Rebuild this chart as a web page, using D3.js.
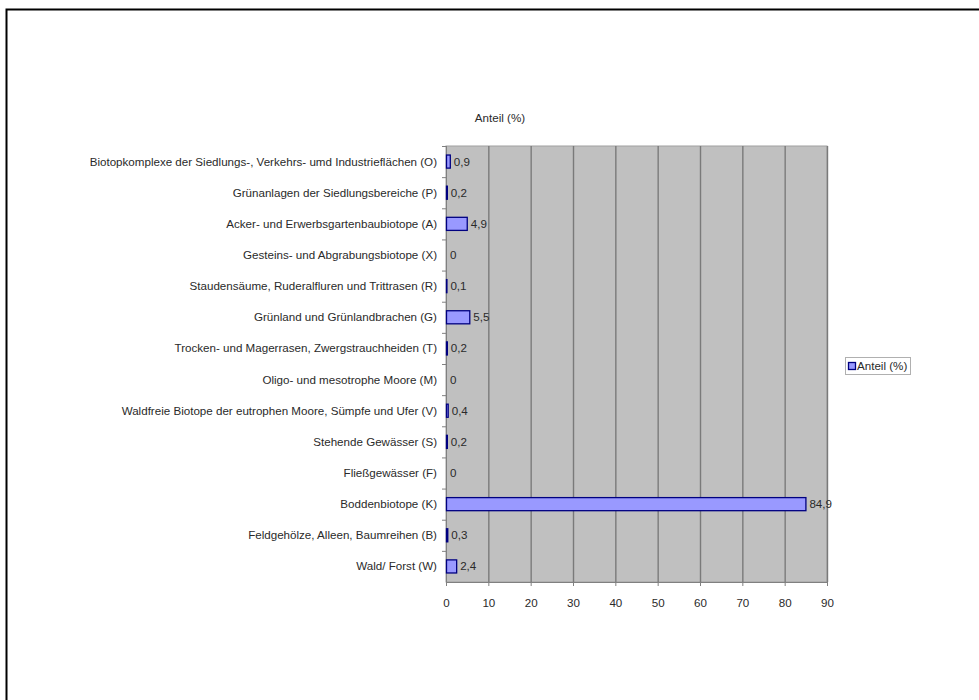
<!DOCTYPE html>
<html>
<head>
<meta charset="utf-8">
<script src="https://cdn.jsdelivr.net/npm/d3@7"></script>
<style>
  body { margin: 0; background: #fff; }
  svg text { font-family: "Liberation Sans", Arial, sans-serif; fill: #2a2a2a; }
</style>
</head>
<body>
<div id="chart"></div>
<script>
// data, top to bottom
let categories = [
    "Biotopkomplexe der Siedlungs-, Verkehrs- umd Industrieflächen (O)",
    "Grünanlagen der Siedlungsbereiche (P)",
    "Acker- und Erwerbsgartenbaubiotope (A)",
    "Gesteins- und Abgrabungsbiotope (X)",
    "Staudensäume, Ruderalfluren und Trittrasen (R)",
    "Grünland und Grünlandbrachen (G)",
    "Trocken- und Magerrasen, Zwergstrauchheiden (T)",
    "Oligo- und mesotrophe Moore (M)",
    "Waldfreie Biotope der eutrophen Moore, Sümpfe und Ufer (V)",
    "Stehende Gewässer (S)",
    "Fließgewässer (F)",
    "Boddenbiotope (K)",
    "Feldgehölze, Alleen, Baumreihen (B)",
    "Wald/ Forst (W)"
];
let values = [0.9, 0.2, 4.9, 0, 0.1, 5.5, 0.2, 0, 0.4, 0.2, 0, 84.9, 0.3, 2.4];
let xTicks = [0, 10, 20, 30, 40, 50, 60, 70, 80, 90];
let seriesName = "Anteil (%)";

let width = 979, height = 700;
let plot = {left: 446, right: 827, top: 146, bottom: 582};
let fontSize = "11.6px";

let svg = d3.select("#chart").append("svg")
    .attr("width", width)
    .attr("height", height);

// outer frame
svg.append("path")
    .attr("d", "M6.5," + height + "V9.5H" + width)
    .style("fill", "none")
    .style("stroke", "#000")
    .style("stroke-width", 2);

let x = d3.scaleLinear().domain([0, 90]).range([plot.left, plot.right]);
let y = d3.scaleBand().domain(categories).range([plot.top, plot.bottom]).paddingInner(0.58).paddingOuter(0.29);
let yb = d3.scaleBand().domain(categories).range([plot.top, plot.bottom]);

// plot area
svg.append("rect")
    .attr("x", plot.left)
    .attr("y", plot.top)
    .attr("width", plot.right - plot.left)
    .attr("height", plot.bottom - plot.top)
    .style("fill", "#c0c0c0")
    .style("stroke", "#a0a0a0");

// gridlines
svg.append("g").selectAll("line")
    .data(xTicks.slice(1))
    .enter().append("line")
    .attr("x1", d => x(d) + 0.5)
    .attr("x2", d => x(d) + 0.5)
    .attr("y1", plot.top)
    .attr("y2", plot.bottom)
    .style("stroke", "#7a7a7a")
    .style("stroke-width", 1.4);

// x axis
let xAxis = svg.append("g")
    .attr("transform", "translate(0," + plot.bottom + ")")
    .call(d3.axisBottom(x).tickValues(xTicks).tickSize(4).tickPadding(13).tickFormat(d3.format("d")));
xAxis.select(".domain").style("stroke", "#808080");
xAxis.selectAll("line").style("stroke", "#808080");
xAxis.selectAll("text").style("font-size", fontSize).style("fill", "#2a2a2a").style("font-family", "Liberation Sans, Arial, sans-serif");

// y axis with ticks on band boundaries
svg.append("line")
    .attr("x1", plot.left + 0.5).attr("x2", plot.left + 0.5)
    .attr("y1", plot.top).attr("y2", plot.bottom)
    .style("stroke", "#808080");
svg.append("g").selectAll("line")
    .data(categories)
    .enter().append("line")
    .attr("x1", plot.left - 4)
    .attr("x2", plot.left)
    .attr("y1", d => yb(d) + 0.5)
    .attr("y2", d => yb(d) + 0.5)
    .style("stroke", "#808080");

svg.append("g").selectAll("text")
    .data(categories)
    .enter().append("text")
    .attr("x", plot.left - 9)
    .attr("y", d => yb(d) + yb.bandwidth() / 2)
    .attr("dy", "0.35em")
    .attr("text-anchor", "end")
    .style("font-size", fontSize)
    .text(d => d);

// bars
svg.append("g").selectAll("rect")
    .data(values)
    .enter().append("rect")
    .attr("x", x(0) + 0.5)
    .attr("y", (d, i) => y(categories[i]))
    .attr("width", d => Math.max(x(d) - x(0), 0.01))
    .attr("height", y.bandwidth())
    .style("fill", "#9999ff")
    .style("stroke", "#000080")
    .style("stroke-width", 1.3)
    .style("display", d => d === 0 ? "none" : null);

// value labels
svg.append("g").selectAll("text")
    .data(values)
    .enter().append("text")
    .attr("x", d => x(d) + 4)
    .attr("y", (d, i) => yb(categories[i]) + yb.bandwidth() / 2)
    .attr("dy", "0.35em")
    .style("font-size", fontSize)
    .text(d => String(d).replace(".", ","));

// title
svg.append("text")
    .attr("x", 500)
    .attr("y", 122)
    .attr("text-anchor", "middle")
    .style("font-size", fontSize)
    .text(seriesName);

// legend
let legend = svg.append("g").attr("transform", "translate(845,357)");
legend.append("rect")
    .attr("x", 0.5).attr("y", 0.5)
    .attr("width", 65).attr("height", 17)
    .style("fill", "#fff")
    .style("stroke", "#b0b0b0");
legend.append("rect")
    .attr("x", 3.5).attr("y", 5.5)
    .attr("width", 7).attr("height", 7)
    .style("fill", "#9999ff")
    .style("stroke", "#000080")
    .style("stroke-width", 1.3);
legend.append("text")
    .attr("x", 12)
    .attr("y", 9)
    .attr("dy", "0.35em")
    .style("font-size", fontSize)
    .text(seriesName);
</script>
</body>
</html>
